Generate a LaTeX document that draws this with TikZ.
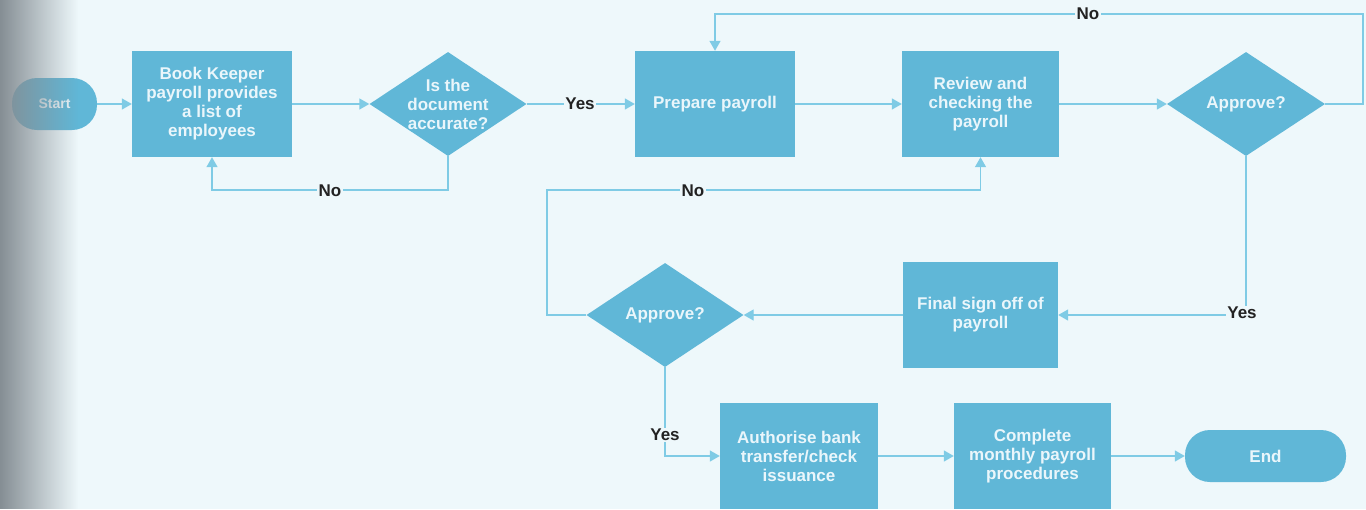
\documentclass[tikz,border=0pt]{standalone}
\usepackage{fontspec}
\setmainfont{Liberation Sans}
\usetikzlibrary{shapes.geometric,arrows.meta,fadings}
\definecolor{bgc}{HTML}{EEF8FB}
\definecolor{boxc}{HTML}{60B7D7}
\definecolor{boxtxt}{HTML}{EAF6FB}
\definecolor{linec}{HTML}{7FCBE5}
\definecolor{lblc}{HTML}{222222}
\definecolor{edgec}{HTML}{858E94}
\tikzfading[name=fadeleft, left color=transparent!0, right color=transparent!100]
\tikzset{
  every node/.style={font=\bfseries\fontsize{17}{19}\selectfont},
  proc/.style={rectangle, fill=boxc, text=boxtxt, align=center,
    minimum width=158pt, minimum height=106pt, inner sep=2pt},
  dec/.style={diamond, fill=boxc, minimum width=157pt, minimum height=104pt, inner sep=0pt},
  dectext/.style={text=boxtxt, align=center},
  term/.style={rectangle, rounded corners=25pt, fill=boxc, text=boxtxt,
    minimum height=52pt, inner sep=2pt},
  conn/.style={draw=linec, line width=1.4pt, -{Triangle[length=10pt,width=11pt]}},
  lbl/.style={fill=bgc, text=lblc, inner sep=1.5pt}
}
\begin{document}
\begin{tikzpicture}[x=1pt,y=-1pt]
\useasboundingbox (0,0) rectangle (1366,509);
\fill[bgc] (0,0) rectangle (1366,509);

% first row
\node[term, minimum width=85pt, font=\bfseries\fontsize{14}{16}\selectfont] (start) at (54.5,104) {Start};
\node[proc, minimum width=160pt] (book) at (212,104) {Book Keeper\\payroll provides\\a list of\\employees};
\node[dec] (d1) at (448,104) {};
\node[dectext] (d1t) at (d1.center) {Is the\\document\\accurate?};
\node[proc, minimum width=160pt] (prep) at (715,104) {Prepare payroll};
\node[proc, minimum width=157pt] (rev) at (980.5,104) {Review and\\checking the\\payroll};
\node[dec, minimum width=158pt] (ap1) at (1246,104) {};
\node[dectext] (ap1t) at (ap1.center) {Approve?};

% second row
\node[proc, minimum width=155pt] (fin) at (980.5,315) {Final sign off of\\payroll};
\node[dec] (ap2) at (665,315) {};
\node[dectext] (ap2t) at (ap2.center) {Approve?};

% third row
\node[proc] (auth) at (799,456) {Authorise bank\\transfer/check\\issuance};
\node[proc, minimum width=157pt] (comp) at (1032.5,456) {Complete\\monthly payroll\\procedures};
\node[term, minimum width=161pt] (end) at (1265.5,456) {End};

% turning points of the loops
\coordinate (c4) at (212,190);
\coordinate (c7) at (1363,14);
\coordinate (c10) at (547,190);

% connectors
\draw[conn] (start) -- (book);
\draw[conn] (book) -- (d1);
\draw[conn] (d1) -- (prep);
\draw[conn] (d1.south) |- (c4) -- (book.south);
\draw[conn] (prep) -- (rev);
\draw[conn] (rev) -- (ap1);
\draw[conn] (ap1.east) -| (c7) -| (prep.north);
\draw[conn] (ap1.south) |- (fin.east);
\draw[conn] (fin) -- (ap2);
\draw[conn] (ap2.west) -| (c10) -| (rev.south);
\draw[conn] (ap2.south) |- (auth.west);
\draw[conn] (auth) -- (comp);
\draw[conn] (comp) -- (end);

% branch labels
\node[lbl] (l1) at (580,104) {Yes};
\node[lbl] (l2) at (330,191) {No};
\node[lbl] (l3) at (1088,14) {No};
\node[lbl] (l4) at (1242,313) {Yes};
\node[lbl] (l5) at (693,191) {No};
\node[lbl] (l6) at (665,435) {Yes};

% darker page edge on the left
\fill[edgec, path fading=fadeleft] (0,0) rectangle (78,509);
\end{tikzpicture}
\end{document}
